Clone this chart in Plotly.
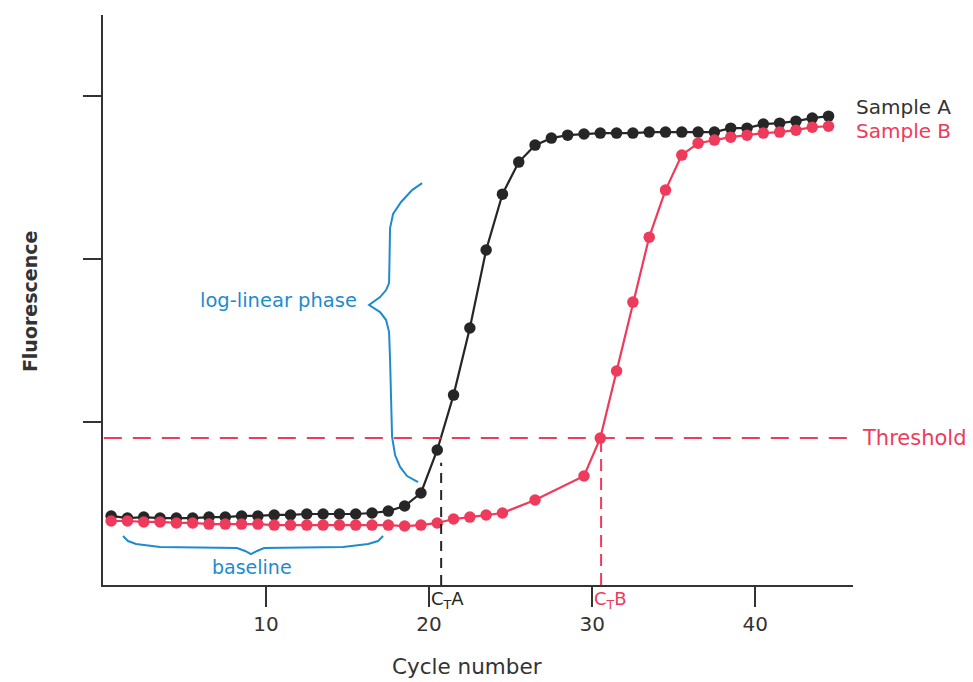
import plotly.graph_objects as go

# ---------------- data ----------------
cycles_a = [0.5, 1.5, 2.5, 3.5, 4.5, 5.5, 6.5, 7.5, 8.5, 9.5,
            10.5, 11.5, 12.5, 13.5, 14.5, 15.5, 16.5, 17.5, 18.5, 19.5,
            20.5, 21.5, 22.5, 23.5, 24.5, 25.5, 26.5, 27.5, 28.5, 29.5,
            30.5, 31.5, 32.5, 33.5, 34.5, 35.5, 36.5, 37.5, 38.5, 39.5,
            40.5, 41.5, 42.5, 43.5, 44.5]
sample_a = [0.424, 0.411, 0.417, 0.411, 0.411, 0.411, 0.417, 0.417, 0.424, 0.424,
            0.430, 0.430, 0.436, 0.436, 0.436, 0.436, 0.442, 0.454, 0.485, 0.565,
            0.829, 1.166, 1.578, 2.057, 2.400, 2.597, 2.701, 2.744, 2.762, 2.769,
            2.775, 2.775, 2.775, 2.781, 2.781, 2.781, 2.781, 2.781, 2.805, 2.805,
            2.830, 2.836, 2.848, 2.867, 2.879]

cycles_b = [0.5, 1.5, 2.5, 3.5, 4.5, 5.5, 6.5, 7.5, 8.5, 9.5,
            10.5, 11.5, 12.5, 13.5, 14.5, 15.5, 16.5, 17.5, 18.5, 19.5,
            20.5, 21.5, 22.5, 23.5, 24.5, 26.5, 29.5,
            30.5, 31.5, 32.5, 33.5, 34.5, 35.5, 36.5, 37.5, 38.5, 39.5,
            40.5, 41.5, 42.5, 43.5, 44.5]
sample_b = [0.393, 0.393, 0.387, 0.387, 0.381, 0.381, 0.374, 0.374, 0.374, 0.374,
            0.368, 0.368, 0.368, 0.368, 0.368, 0.368, 0.368, 0.368, 0.362, 0.368,
            0.381, 0.405, 0.417, 0.430, 0.442, 0.522, 0.669,
            0.902, 1.314, 1.737, 2.136, 2.425, 2.640, 2.713, 2.732, 2.750, 2.762,
            2.775, 2.781, 2.793, 2.811, 2.817]

threshold = 0.902
ct_a = 20.74
ct_b = 30.55
x_ticks = [10, 20, 30, 40]
y_ticks = [1, 2, 3]

BLACK = "#262626"
RED = "#EE3B5B"
BLUE = "#1E8BCD"
GREY = "#333333"
FONT = "DejaVu Sans"

fig = go.Figure()

fig.add_trace(go.Scatter(
    x=cycles_a, y=sample_a, mode="lines+markers", name="Sample A",
    line=dict(color=BLACK, width=2.2),
    marker=dict(color=BLACK, size=11.5, symbol="circle"),
    hoverinfo="skip", showlegend=False))
fig.add_trace(go.Scatter(
    x=cycles_b, y=sample_b, mode="lines+markers", name="Sample B",
    line=dict(color=RED, width=2.2),
    marker=dict(color=RED, size=11.5, symbol="circle"),
    hoverinfo="skip", showlegend=False))

# screen pixel (reference picture) -> data helper for the hand-drawn braces
def px(xp, yp):
    return (xp - 103) / 16.3, (585 - yp) / 162.86

def path(points):
    pts = [px(a, b) for a, b in points]
    return "M " + " L ".join(f"{a:.3f},{b:.3f}" for a, b in pts)

brace_v = [(422, 183), (412, 190), (401, 202), (393, 214), (390, 228), (389, 283),
           (386, 290), (380, 297), (369, 305), (380, 312), (386, 320), (389, 332),
           (390, 360), (392, 437), (395, 455), (400, 467), (407, 476), (418, 482)]
brace_h = [(123, 536), (128, 541), (136, 544), (160, 547), (237, 548), (245, 551),
           (251, 554), (257, 551), (264, 548), (343, 547), (368, 544), (378, 541),
           (383, 536)]

shapes = [
    dict(type="line", xref="x", yref="y", x0=0.05, x1=45.95, y0=threshold, y1=threshold,
         line=dict(color=RED, width=2, dash="18px,11px")),
    dict(type="line", xref="x", yref="y", x0=ct_a, x1=ct_a, y0=0, y1=0.75,
         line=dict(color=BLACK, width=2, dash="10px,7px")),
    dict(type="line", xref="x", yref="y", x0=ct_b, x1=ct_b, y0=0, y1=threshold,
         line=dict(color=RED, width=2, dash="12px,7px")),
    dict(type="path", xref="x", yref="y", path=path(brace_v),
         line=dict(color=BLUE, width=2)),
    dict(type="path", xref="x", yref="y", path=path(brace_h),
         line=dict(color=BLUE, width=2)),
]

annotations = [
    dict(text="Sample A", x=1, y=2.934, xref="paper", yref="y", xanchor="left",
         yanchor="middle", xshift=1, showarrow=False,
         font=dict(family=FONT, size=20, color=GREY)),
    dict(text="Sample B", x=1, y=2.787, xref="paper", yref="y", xanchor="left",
         yanchor="middle", xshift=1, showarrow=False,
         font=dict(family=FONT, size=20, color=RED)),
    dict(text="Threshold", x=1, y=threshold, xref="paper", yref="y", xanchor="left",
         yanchor="middle", xshift=7, showarrow=False,
         font=dict(family=FONT, size=21, color=RED)),
    dict(text="log-linear phase", x=15.7, y=1.75, xref="x", yref="y", xanchor="right",
         yanchor="middle", showarrow=False, font=dict(family=FONT, size=19.5, color=BLUE)),
    dict(text="baseline", x=9.15, y=0.11, xref="x", yref="y", xanchor="center",
         yanchor="middle", showarrow=False, font=dict(family=FONT, size=19, color=BLUE)),
    dict(text="C<sub>T</sub>A", x=20, y=0, xref="x", yref="paper", xanchor="left",
         yanchor="top", xshift=0, yshift=-1, showarrow=False,
         font=dict(family=FONT, size=18, color=BLACK)),
    dict(text="C<sub>T</sub>B", x=30, y=0, xref="x", yref="paper", xanchor="left",
         yanchor="top", xshift=0, yshift=-1, showarrow=False,
         font=dict(family=FONT, size=18, color=RED)),
    dict(text="Cycle number", x=22.3, y=0, xref="x", yref="paper", xanchor="center",
         yanchor="middle", yshift=-81, showarrow=False,
         font=dict(family=FONT, size=21.5, color=GREY)),
    dict(text="<b>Fluorescence</b>", x=0, y=1.737, xref="paper", yref="y",
         xanchor="center", yanchor="middle", xshift=-73, textangle=-90,
         showarrow=False, font=dict(family=FONT, size=19, color=GREY)),
]

# the page has an 8px body margin, so the figure is sized to fit the window
fig.update_layout(
    width=965, height=674,
    margin=dict(l=95, r=120, t=7, b=97),
    paper_bgcolor="white", plot_bgcolor="white",
    shapes=shapes, annotations=annotations,
    showlegend=False,
)
fig.update_xaxes(
    range=[0, 46], showgrid=False, zeroline=False,
    showline=True, linecolor=GREY, linewidth=2,
    tickmode="array", tickvals=x_ticks, ticktext=[str(v) for v in x_ticks],
    ticks="outside", ticklen=20, tickwidth=2, tickcolor=GREY,
    tickfont=dict(family=FONT, size=20, color=GREY),
)
fig.update_yaxes(
    range=[0, 3.5], showgrid=False, zeroline=False,
    showline=True, linecolor=GREY, linewidth=2,
    tickmode="array", tickvals=y_ticks, showticklabels=False,
    ticks="outside", ticklen=18, tickwidth=2, tickcolor=GREY,
)

fig.write_html("out.html")
